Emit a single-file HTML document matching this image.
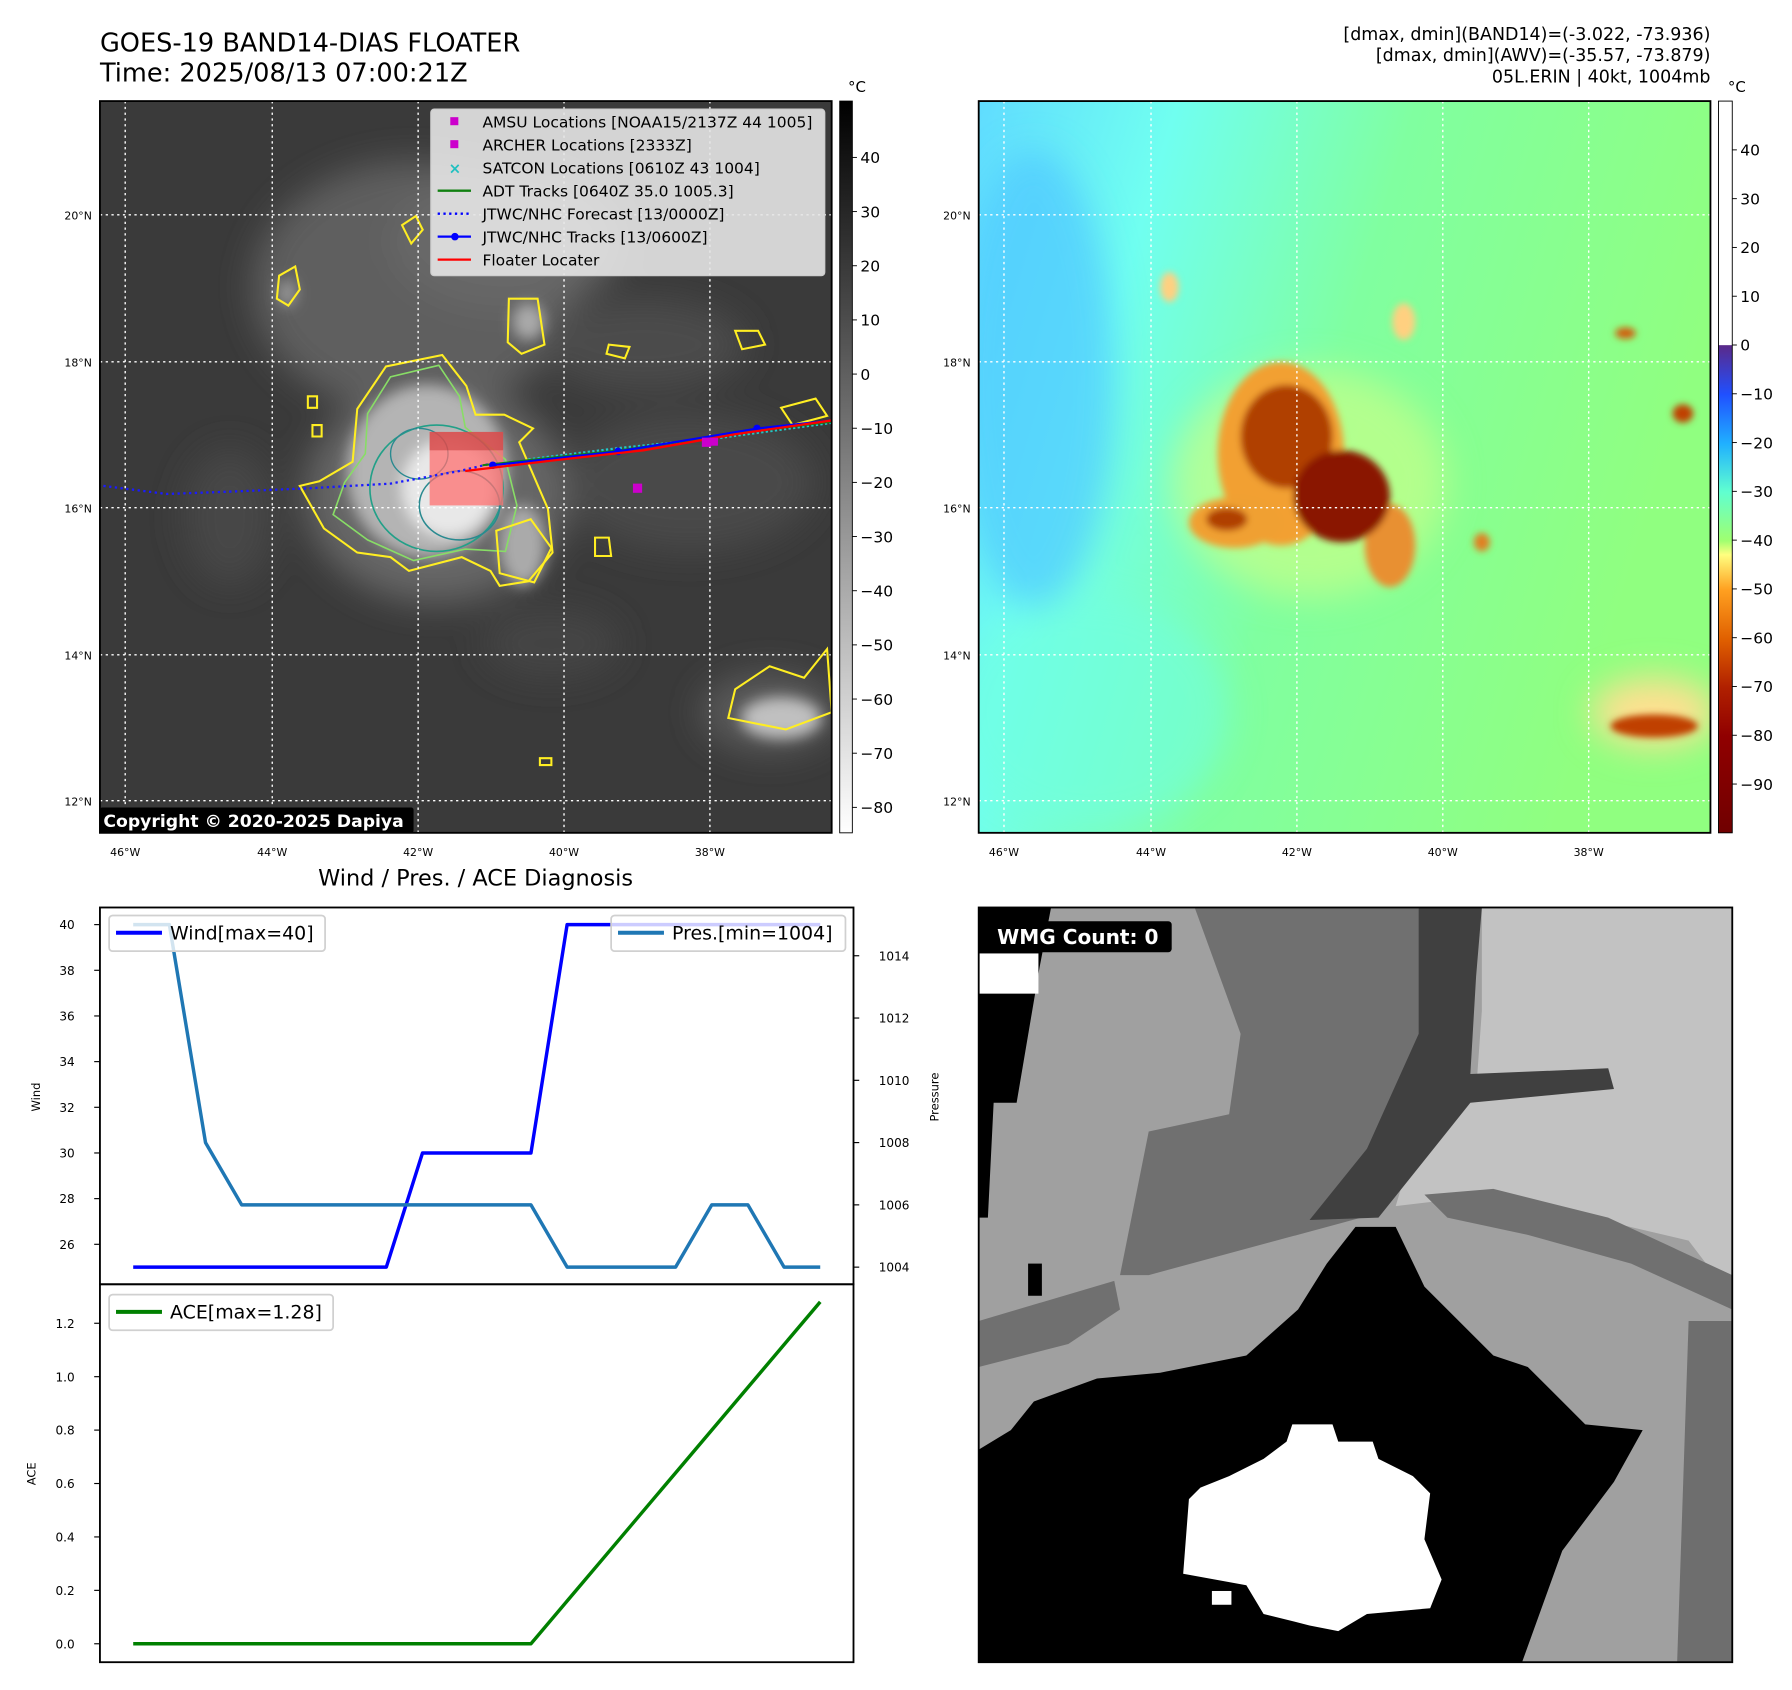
<!DOCTYPE html>
<html><head><meta charset="utf-8">
<style>
html,body{margin:0;padding:0;background:#fff;}
svg{display:block;font-family:"DejaVu Sans","Liberation Sans",sans-serif;}
</style></head>
<body>
<svg id="fig" width="1792" height="1690" viewBox="0 0 1560 1471.2" xmlns="http://www.w3.org/2000/svg">
<defs>
  <filter id="blur8" x="-50%" y="-50%" width="200%" height="200%"><feGaussianBlur stdDeviation="6"/></filter>
  <filter id="blur15" x="-50%" y="-50%" width="200%" height="200%"><feGaussianBlur stdDeviation="15"/></filter>
  <filter id="blur4" x="-50%" y="-50%" width="200%" height="200%"><feGaussianBlur stdDeviation="3"/></filter>
  <clipPath id="c1"><rect x="87" y="88" width="637" height="637"/></clipPath>
  <clipPath id="c2"><rect x="852" y="88" width="637" height="637"/></clipPath>
  <clipPath id="c3"><rect x="852" y="790" width="656" height="657"/></clipPath>
  <linearGradient id="gbar" x1="0" y1="0" x2="0" y2="1">
    <stop offset="0" stop-color="#000"/><stop offset="1" stop-color="#fff"/>
  </linearGradient>
  <linearGradient id="cbar" x1="0" y1="0" x2="0" y2="1">
    <stop offset="0" stop-color="#fff"/><stop offset="0.333" stop-color="#fff"/>
    <stop offset="0.334" stop-color="#5a2a8a"/><stop offset="0.401" stop-color="#2050ff"/>
    <stop offset="0.468" stop-color="#20b0ff"/><stop offset="0.534" stop-color="#60ffd0"/>
    <stop offset="0.601" stop-color="#a0ff70"/><stop offset="0.62" stop-color="#ffff80"/>
    <stop offset="0.668" stop-color="#ffa020"/><stop offset="0.735" stop-color="#e06000"/>
    <stop offset="0.801" stop-color="#b02000"/><stop offset="0.868" stop-color="#900000"/>
    <stop offset="1" stop-color="#700000"/>
  </linearGradient>
  <linearGradient id="m2bg" x1="0" y1="0" x2="1" y2="0.3">
    <stop offset="0" stop-color="#60dcff"/><stop offset="0.25" stop-color="#70fff0"/>
    <stop offset="0.55" stop-color="#80ffa0"/><stop offset="1" stop-color="#90ff80"/>
  </linearGradient>
</defs>

<text x="87" y="45" font-size="22.3">GOES-19 BAND14-DIAS FLOATER</text>
<text x="87" y="71" font-size="22.3">Time: 2025/08/13 07:00:21Z</text>
<g font-size="15.2" text-anchor="end">
  <text x="1489" y="35">[dmax, dmin](BAND14)=(-3.022, -73.936)</text>
  <text x="1489" y="53">[dmax, dmin](AWV)=(-35.57, -73.879)</text>
  <text x="1489" y="72">05L.ERIN | 40kt, 1004mb</text>
</g>

<g clip-path="url(#c1)">
  <rect x="87" y="88" width="637" height="637" fill="#3a3a3a"/>
  <g filter="url(#blur15)">
    <ellipse cx="360" cy="250" rx="140" ry="110" fill="#5e5e5e"/>
    <ellipse cx="440" cy="210" rx="100" ry="60" fill="#686868"/>
    <ellipse cx="560" cy="300" rx="90" ry="40" fill="#4c4c4c"/>
    <ellipse cx="380" cy="430" rx="115" ry="95" fill="#666"/>
    <ellipse cx="600" cy="420" rx="110" ry="60" fill="#4a4a4a"/>
    <ellipse cx="670" cy="620" rx="60" ry="35" fill="#5a5a5a"/>
    <ellipse cx="200" cy="450" rx="40" ry="60" fill="#464646"/>
    <ellipse cx="480" cy="560" rx="60" ry="30" fill="#444"/>
  </g>
  <g filter="url(#blur8)">
    <ellipse cx="372" cy="410" rx="70" ry="75" fill="#b4b4b4"/>
    <ellipse cx="455" cy="475" rx="20" ry="35" fill="#aaa"/>
    <ellipse cx="390" cy="425" rx="40" ry="42" fill="#e8e8e8"/>
    <ellipse cx="680" cy="625" rx="35" ry="18" fill="#c0c0c0"/>
    <ellipse cx="460" cy="280" rx="14" ry="16" fill="#aaa"/>
    <ellipse cx="250" cy="255" rx="8" ry="12" fill="#999"/>
  </g>
  <path d="M311,356 L336,319 L385,309 L406,336 L414,361 L439,361 L464,373 L452,385 L477,443 L481,481 L460,506 L435,510 L427,497 L402,485 L356,497 L340,485 L311,481 L282,460 L261,423 L278,419 L307,402 Z" fill="none" stroke="#ffee22" stroke-width="1.8"/>
  <path d="M320,360 L340,328 L382,318 L400,345 L405,372 L440,400 L450,440 L440,480 L405,478 L360,488 L320,470 L290,448 L300,420 L318,395 Z" fill="none" stroke="#88dd66" stroke-width="1.4"/>
  <ellipse cx="380" cy="425" rx="58" ry="55" fill="none" stroke="#22a088" stroke-width="1.4"/>
  <ellipse cx="400" cy="440" rx="35" ry="30" fill="none" stroke="#2a8a90" stroke-width="1.4"/>
  <ellipse cx="365" cy="395" rx="25" ry="22" fill="none" stroke="#2a8a90" stroke-width="1.2"/>
  <g fill="none" stroke="#ffee22" stroke-width="1.8">
    <path d="M350,196 l12,-8 l6,12 l-10,12 z"/>
    <path d="M243,240 l14,-8 l4,20 l-10,14 l-10,-6 z"/>
    <path d="M443,260 l25,0 l6,40 l-20,8 l-12,-10 z"/>
    <path d="M640,288 l20,0 l6,12 l-20,4 z"/>
    <path d="M530,300 l18,2 l-4,10 l-16,-4 z"/>
    <path d="M640,600 l30,-20 l30,10 l20,-25 l4,55 l-40,15 l-50,-10 z"/>
    <path d="M432,462 l30,-10 l18,25 l-15,30 l-30,-8 z"/>
    <path d="M518,468 l12,0 l2,16 l-14,0 z"/>
    <path d="M680,355 l30,-8 l10,15 l-30,8 z"/>
    <path d="M268,345 l8,0 l0,10 l-8,0 z"/>
    <path d="M272,370 l8,0 l0,10 l-8,0 z"/>
    <path d="M470,660 l10,0 l0,6 l-10,0 z"/>
  </g>
  <g stroke="#fff" stroke-width="1.2" stroke-dasharray="2,3">
    <line x1="109" y1="88" x2="109" y2="725"/><line x1="237" y1="88" x2="237" y2="725"/>
    <line x1="364" y1="88" x2="364" y2="725"/><line x1="491" y1="88" x2="491" y2="725"/>
    <line x1="618" y1="88" x2="618" y2="725"/>
    <line x1="87" y1="187" x2="724" y2="187"/><line x1="87" y1="315" x2="724" y2="315"/>
    <line x1="87" y1="442" x2="724" y2="442"/><line x1="87" y1="570" x2="724" y2="570"/>
    <line x1="87" y1="697" x2="724" y2="697"/>
  </g>
  <rect x="374" y="376" width="64" height="64" fill="#ff7070" opacity="0.75"/>
  <rect x="374" y="376" width="64" height="16" fill="#c03030" opacity="0.5"/>
  <polyline points="90,423 145,430 200,428 270,425 340,421 400,410 430,403" fill="none" stroke="#1a1aff" stroke-width="2" stroke-dasharray="2,3"/>
  <polyline points="460,400 540,390 620,382 724,368" fill="none" stroke="#20c8c8" stroke-width="2.2" stroke-dasharray="2,2"/>
  <polyline points="420,405 540,392 660,375 724,367" fill="none" stroke="#108010" stroke-width="1.8"/>
  <polyline points="429,405 538,393 659,373 724,366" fill="none" stroke="#0000ff" stroke-width="1.8"/>
  <g fill="#0000ff"><circle cx="429" cy="405" r="3.3"/><circle cx="538" cy="393" r="3.3"/><circle cx="659" cy="373" r="3.3"/></g>
  <polyline points="405,410 480,401 560,392 640,378 724,366" fill="none" stroke="#ff0000" stroke-width="2"/>
  <g fill="#cc00cc">
    <rect x="551" y="421" width="8" height="8"/><rect x="611" y="381" width="8" height="8"/><rect x="618" y="381" width="7" height="7"/>
  </g>
  <rect x="87" y="703" width="273" height="22" fill="#000" rx="2"/>
  <text x="90" y="720" font-size="15" font-weight="bold" fill="#fff">Copyright © 2020-2025 Dapiya</text>
</g>
<rect x="87" y="88" width="637" height="637" fill="none" stroke="#000" stroke-width="1.6"/>

<g font-size="13.5">
  <rect x="375" y="95" width="343" height="145" rx="3" fill="#e6e6e6" fill-opacity="0.9" stroke="#ccc"/>
  <rect x="392" y="102" width="7" height="7" fill="#cc00cc"/>
  <text x="420" y="111">AMSU Locations [NOAA15/2137Z 44 1005]</text>
  <rect x="392" y="122" width="7" height="7" fill="#cc00cc"/>
  <text x="420" y="131">ARCHER Locations [2333Z]</text>
  <text x="396" y="151" fill="#20c0c0" font-size="13" font-weight="bold" text-anchor="middle">×</text>
  <text x="420" y="151">SATCON Locations [0610Z 43 1004]</text>
  <line x1="381" y1="166" x2="410" y2="166" stroke="#108010" stroke-width="2"/>
  <text x="420" y="171">ADT Tracks [0640Z 35.0 1005.3]</text>
  <line x1="381" y1="186" x2="410" y2="186" stroke="#0000ff" stroke-width="2" stroke-dasharray="2,3"/>
  <text x="420" y="191">JTWC/NHC Forecast [13/0000Z]</text>
  <line x1="381" y1="206" x2="410" y2="206" stroke="#0000ff" stroke-width="2"/><circle cx="396" cy="206" r="3.3" fill="#0000ff"/>
  <text x="420" y="211">JTWC/NHC Tracks [13/0600Z]</text>
  <line x1="381" y1="226" x2="410" y2="226" stroke="#ff0000" stroke-width="2"/>
  <text x="420" y="231">Floater Locater</text>
</g>

<g font-size="9.5" text-anchor="middle">
  <text x="109" y="745">46°W</text><text x="237" y="745">44°W</text><text x="364" y="745">42°W</text><text x="491" y="745">40°W</text><text x="618" y="745">38°W</text>
</g>
<g font-size="9.5" text-anchor="end">
  <text x="80" y="191">20°N</text><text x="80" y="319">18°N</text><text x="80" y="446">16°N</text><text x="80" y="574">14°N</text><text x="80" y="701">12°N</text>
</g>
<g font-size="9.5" text-anchor="middle">
  <text x="874" y="745">46°W</text><text x="1002" y="745">44°W</text><text x="1129" y="745">42°W</text><text x="1256" y="745">40°W</text><text x="1383" y="745">38°W</text>
</g>
<g font-size="9.5" text-anchor="end">
  <text x="845" y="191">20°N</text><text x="845" y="319">18°N</text><text x="845" y="446">16°N</text><text x="845" y="574">14°N</text><text x="845" y="701">12°N</text>
</g>

<g>
  <rect x="731" y="88" width="11" height="637" fill="url(#gbar)" stroke="#000" stroke-width="0.8"/>
  <text x="746" y="80" font-size="13" text-anchor="middle">°C</text>
  <g font-size="13.5" id="cb1ticks"></g>
</g>
<g clip-path="url(#c2)">
  <rect x="852" y="88" width="637" height="637" fill="url(#m2bg)"/>
  <g filter="url(#blur15)">
    <ellipse cx="900" cy="330" rx="70" ry="200" fill="#50c8ff" opacity="0.7"/>
    <ellipse cx="950" cy="620" rx="120" ry="100" fill="#70ffe0" opacity="0.6"/>
    <ellipse cx="1140" cy="420" rx="120" ry="100" fill="#c8ff88" opacity="0.7"/>
    <ellipse cx="1440" cy="620" rx="55" ry="30" fill="#ffe090"/>
  </g>
  <g filter="url(#blur4)">
    <ellipse cx="1115" cy="395" rx="55" ry="80" fill="#f2a030"/>
    <ellipse cx="1075" cy="455" rx="40" ry="22" fill="#f0a030"/>
    <ellipse cx="1210" cy="475" rx="22" ry="36" fill="#e89030"/>
    <ellipse cx="1120" cy="380" rx="40" ry="45" fill="#b04000"/>
    <ellipse cx="1168" cy="432" rx="42" ry="40" fill="#8a1800"/>
    <ellipse cx="1068" cy="452" rx="18" ry="10" fill="#b04000"/>
    <ellipse cx="1440" cy="632" rx="38" ry="10" fill="#c04000"/>
    <ellipse cx="1465" cy="360" rx="9" ry="8" fill="#c04000"/>
    <ellipse cx="1415" cy="290" rx="9" ry="5" fill="#d06010"/>
    <ellipse cx="1290" cy="472" rx="7" ry="8" fill="#e08020"/>
    <ellipse cx="1222" cy="280" rx="10" ry="16" fill="#ffd080"/>
    <ellipse cx="1018" cy="250" rx="8" ry="13" fill="#ffd080"/>
  </g>
  <g stroke="#fff" stroke-width="1.2" stroke-dasharray="2,3">
    <line x1="874" y1="88" x2="874" y2="725"/><line x1="1002" y1="88" x2="1002" y2="725"/>
    <line x1="1129" y1="88" x2="1129" y2="725"/><line x1="1256" y1="88" x2="1256" y2="725"/>
    <line x1="1383" y1="88" x2="1383" y2="725"/>
    <line x1="852" y1="187" x2="1489" y2="187"/><line x1="852" y1="315" x2="1489" y2="315"/>
    <line x1="852" y1="442" x2="1489" y2="442"/><line x1="852" y1="570" x2="1489" y2="570"/>
    <line x1="852" y1="697" x2="1489" y2="697"/>
  </g>
</g>
<rect x="852" y="88" width="637" height="637" fill="none" stroke="#000" stroke-width="1.6"/>
<g>
  <rect x="1496" y="88" width="12" height="637" fill="url(#cbar)" stroke="#000" stroke-width="0.8"/>
  <text x="1512" y="80" font-size="13" text-anchor="middle">°C</text>
  <g font-size="13.5" id="cb2ticks"></g>
</g>

<text x="414" y="771" font-size="19.5" text-anchor="middle">Wind / Pres. / ACE Diagnosis</text>
<g id="chart"></g>

<g clip-path="url(#c3)">
  <rect x="852" y="790" width="656" height="657" fill="#a0a0a0"/>
  <polygon points="1290,790 1508,790 1508,1130 1470,1080 1300,1040 1215,1050 1230,1000 1285,950 1290,880" fill="#c2c2c2"/>
  <polygon points="1040,790 1235,790 1245,880 1210,1000 1185,1060 1000,1110 975,1110 1000,985 1070,970 1080,900" fill="#707070"/>
  <polygon points="1235,790 1290,790 1285,850 1280,935 1400,930 1405,948 1280,960 1200,1060 1140,1062 1190,1000 1235,900" fill="#404040"/>
  <polygon points="1240,1040 1300,1035 1400,1060 1508,1110 1508,1140 1420,1100 1330,1075 1260,1060" fill="#707070"/>
  <polygon points="852,1150 970,1115 975,1140 930,1170 852,1190" fill="#707070"/>
  <polygon points="852,790 915,790 905,842 885,960 865,960 860,1060 852,1060" fill="#000"/>
  <rect x="852" y="830" width="52" height="35" fill="#fff"/>
  <rect x="895" y="1100" width="12" height="28" fill="#000"/>
  <polygon points="1180,1068 1215,1068 1240,1120 1300,1180 1330,1190 1380,1240 1430,1245 1405,1290 1360,1350 1325,1447 852,1447 852,1262 880,1245 900,1220 955,1200 1010,1195 1085,1180 1130,1140 1155,1100" fill="#000"/>
  <polygon points="1125,1240 1160,1240 1165,1255 1195,1255 1200,1270 1230,1285 1245,1300 1240,1340 1255,1375 1245,1400 1190,1405 1165,1420 1140,1415 1100,1405 1085,1380 1030,1370 1035,1305 1045,1295 1070,1285 1100,1270 1120,1255" fill="#fff"/>
  <rect x="1055" y="1385" width="17" height="12" fill="#fff"/>
  <polygon points="1470,1150 1508,1150 1508,1447 1460,1447" fill="#6e6e6e"/>
  <rect x="862" y="802" width="158" height="27" rx="3" fill="#000"/>
  <text x="868" y="822" font-size="17.5" font-weight="bold" fill="#fff">WMG Count: 0</text>
</g>
<rect x="852" y="790" width="656" height="657" fill="none" stroke="#000" stroke-width="1.6"/>

<script>
// ---- Chart data ----
const steps = [0,1,2,3,4,5,6,7,8,9,10,11,12,13,14,15,16,17,18,19];
const windValues = [25,25,25,25,25,25,25,25,30,30,30,30,40,40,40,40,40,40,40,40];
const presValues = [1015,1015,1008,1006,1006,1006,1006,1006,1006,1006,1006,1006,1004,1004,1004,1004,1006,1006,1004,1004];
const aceValues = [0,0,0,0,0,0,0,0,0,0,0,0,0.16,0.32,0.48,0.64,0.80,0.96,1.12,1.28];
const windTicks = [26,28,30,32,34,36,38,40];
const presTicks = [1004,1006,1008,1010,1012,1014];
const aceTicks = [0.0,0.2,0.4,0.6,0.8,1.0,1.2];
const cb1Ticks = [40,30,20,10,0,-10,-20,-30,-40,-50,-60,-70,-80];
const cb2Ticks = [40,30,20,10,0,-10,-20,-30,-40,-50,-60,-70,-80,-90];

const NS = 'http://www.w3.org/2000/svg';
function mk(tag, attrs, parent){const e=document.createElementNS(NS,tag);for(const k in attrs)e.setAttribute(k,attrs[k]);parent.appendChild(e);return e;}
function lin(d0,d1,r0,r1){return v=>r0+(v-d0)/(d1-d0)*(r1-r0);}

const cb1 = document.getElementById('cb1ticks');
const cb1y = lin(50.4,-84.7,88,725);
cb1Ticks.forEach(t=>{
  mk('line',{x1:742,x2:746,y1:cb1y(t),y2:cb1y(t),stroke:'#000','stroke-width':0.8},cb1);
  const tx=mk('text',{x:749,y:cb1y(t)+5},cb1);tx.textContent=(t<0?'\u2212'+(-t):t);
  
  
});
const cb2 = document.getElementById('cb2ticks');
const cb2y = lin(50,-100,88,725);
cb2Ticks.forEach(t=>{
  mk('line',{x1:1508,x2:1512,y1:cb2y(t),y2:cb2y(t),stroke:'#000','stroke-width':0.8},cb2);
  const tx=mk('text',{x:1515,y:cb2y(t)+5},cb2);tx.textContent=(t<0?'\u2212'+(-t):t);
  
  
});

const g = document.getElementById('chart');
const X0=87, X1=743, YT=790, YM=1118, YB=1447;
const x = lin(-0.92,19.92,X0,X1);
const yW = lin(24.25,40.75,YM,YT);
const yP = lin(1003.45,1015.55,YM,YT);
const yA = lin(-0.069,1.346,YB,YM);

function ticksLeft(ticks,scale,fmt){
  ticks.forEach(t=>{
    const yy=scale(t);
    mk('line',{x1:X0-5,x2:X0,y1:yy,y2:yy,stroke:'#000','stroke-width':1},g);
    const tx=mk('text',{x:X0-22,y:yy+4,'font-size':10.5,'text-anchor':'end'},g);
    tx.textContent=fmt(t);
    
    
  });
}
ticksLeft(windTicks,yW,t=>t);
ticksLeft(aceTicks,yA,t=>t.toFixed(1));
presTicks.forEach(t=>{
  const yy=yP(t);
  mk('line',{x1:X1,x2:X1+5,y1:yy,y2:yy,stroke:'#000','stroke-width':1},g);
  const tx=mk('text',{x:X1+22,y:yy+4,'font-size':10.5},g);
  tx.textContent=t;
  
  
});
function line(vals,scale,color,name){
  const p=mk('polyline',{points:vals.map((v,i)=>x(steps[i])+','+scale(v)).join(' '),fill:'none',stroke:color,'stroke-width':3,'stroke-linejoin':'round'},g);
  
  
}
line(windValues,yW,'#0000ff','wind-line');
line(presValues,yP,'#1f77b4','pressure-line');
line(aceValues,yA,'#008000','ace-line');

mk('rect',{x:X0,y:YT,width:X1-X0,height:YM-YT,fill:'none',stroke:'#000','stroke-width':1.6},g);
mk('rect',{x:X0,y:YM,width:X1-X0,height:YB-YM,fill:'none',stroke:'#000','stroke-width':1.6},g);

function axLabel(txt,xx,yy,name){
  const t=mk('text',{x:xx,y:yy,'font-size':10,'text-anchor':'middle',transform:'rotate(-90 '+xx+' '+yy+')'},g);
  t.textContent=txt;
  
  
}
axLabel('Wind',35,955,'wind-axis-title');
axLabel('Pressure',817,955,'pressure-axis-title');
axLabel('ACE',31,1283,'ace-axis-title');

function legend(x0,y0,w,label,color,name){
  const lg=mk('g',{},g);
  
  
  mk('rect',{x:x0,y:y0,width:w,height:31,rx:3,fill:'#fff','fill-opacity':0.8,stroke:'#d0d0d0','stroke-width':1.5},lg);
  mk('line',{x1:x0+6,x2:x0+46,y1:y0+15,y2:y0+15,stroke:color,'stroke-width':3.5},lg);
  const t=mk('text',{x:x0+53,y:y0+21,'font-size':16.5},lg);t.textContent=label;
}
legend(95,797,188,'Wind[max=40]','#0000ff','wind-legend');
legend(532,797,204,'Pres.[min=1004]','#1f77b4','pressure-legend');
legend(95,1127,195,'ACE[max=1.28]','#008000','ace-legend');
</script>
</svg>
</body></html>
